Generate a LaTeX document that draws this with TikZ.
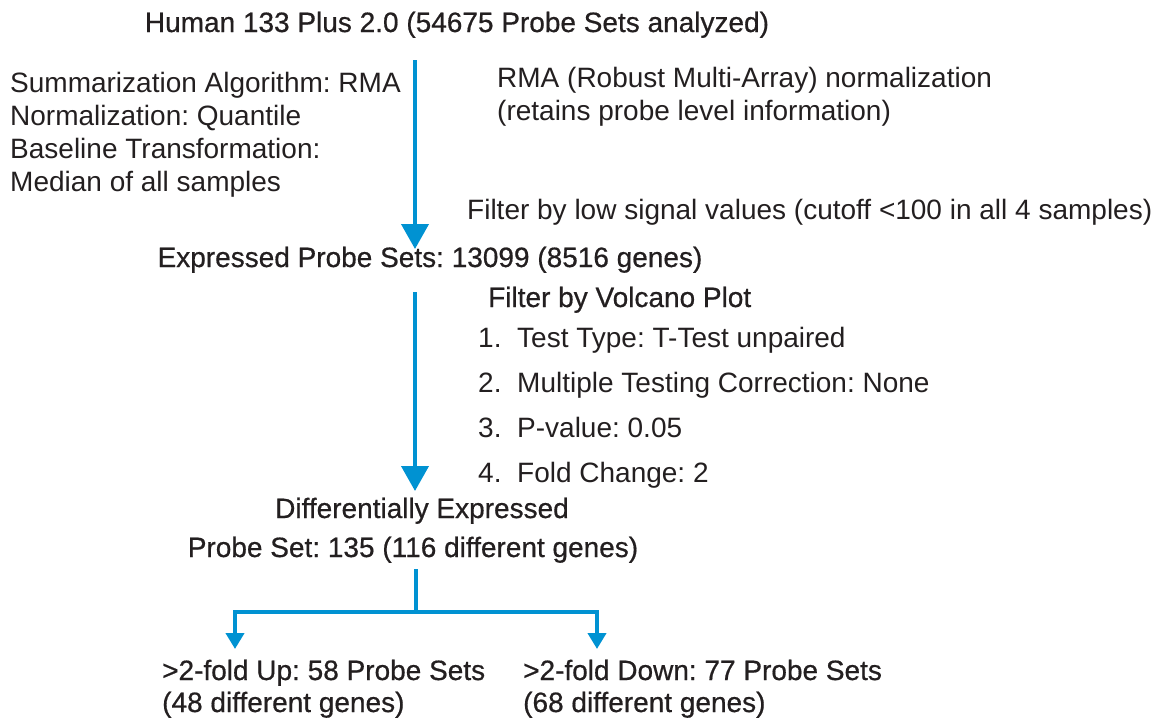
\documentclass[tikz,border=0pt]{standalone}
\usepackage{fontspec}
\setmainfont{Liberation Sans}
\newfontfamily\medfont{Liberation Sans}[FakeBold=0.6]
\usetikzlibrary{arrows.meta}
\definecolor{flowblue}{RGB}{0,146,210}
\definecolor{ink}{RGB}{35,31,32}
\frenchspacing
\begin{document}
\begin{tikzpicture}[x=1pt,y=-1pt,
  txt/.style={anchor=base west,inner sep=0pt,text=ink,font=\fontsize{28}{33}\selectfont\frenchspacing},
  head/.style={anchor=base,inner sep=0pt,text=ink,font=\fontsize{28}{33}\selectfont\medfont\frenchspacing},
  headw/.style={txt,font=\fontsize{28}{33}\selectfont\medfont\frenchspacing},
  flow/.style={draw=flowblue,line width=4pt,-{Triangle[width=27pt,length=25pt]}},
  flowsmall/.style={draw=flowblue,line width=4pt,-{Triangle[width=18pt,length=16pt]}},
  flowline/.style={draw=flowblue,line width=4pt}]
\useasboundingbox (0,0) rectangle (1174,721);
% headings
\node[head] (title) at (457,32) {Human 133 Plus 2.0 (54675 Probe Sets analyzed)};
\node[head] (expr) at (430,267) {Expressed Probe Sets: 13099 (8516 genes)};
\node[head] (diff1) at (422,518) {Differentially Expressed};
\node[head] (diff2) at (413,557) {Probe Set: 135 (116 different genes)};
\node[headw] (up1) at (162,680) {>2-fold Up: 58 Probe Sets};
\node[headw] (up2) at (162,712) {(48 different genes)};
\node[headw] (dn1) at (523,680) {>2-fold Down: 77 Probe Sets};
\node[headw] (dn2) at (523,712) {(68 different genes)};
% side notes
\node[txt] (sum) at (10,92) {Summarization Algorithm: RMA};
\node[txt] (norm) at (10,125) {Normalization: Quantile};
\node[txt] (base) at (10,158) {Baseline Transformation:};
\node[txt] (med) at (10,191) {Median of all samples};
\node[txt] (rma1) at (497,87) {RMA (Robust Multi-Array) normalization};
\node[txt] (rma2) at (497,120) {(retains probe level information)};
\node[txt] (low) at (467,219) {Filter by low signal values (cutoff <100 in all 4 samples)};
\node[headw] (volc) at (488,307) {Filter by Volcano Plot};
\node[txt] (n1) at (478,347) {1.};
\node[txt] (l1) at (517,347) {Test Type: T-Test unpaired};
\node[txt] (n2) at (478,392) {2.};
\node[txt] (l2) at (517,392) {Multiple Testing Correction: None};
\node[txt] (n3) at (478,437) {3.};
\node[txt] (l3) at (517,437) {P-value: 0.05};
\node[txt] (n4) at (478,482) {4.};
\node[txt] (l4) at (517,482) {Fold Change: 2};
% connectors
\coordinate (a1s) at (415,60);
\coordinate (a1e) at (415,249);
\coordinate (a2s) at (415,292);
\coordinate (a2e) at (415,491);
\coordinate (bs) at (416,569);
\coordinate (bj) at (416,612);
\coordinate (bl) at (235,612);
\coordinate (br) at (597,612);
\coordinate (ble) at (235,649);
\coordinate (bre) at (597,649);
\draw[flow] (a1s) -- (a1e);
\draw[flow] (a2s) -- (a2e);
\draw[flowline] (bs) -- (bj);
\draw[flowline,line cap=rect] (bl) -- (br);
\draw[flowsmall] (bl) -- (ble);
\draw[flowsmall] (br) -- (bre);
\end{tikzpicture}
\end{document}
